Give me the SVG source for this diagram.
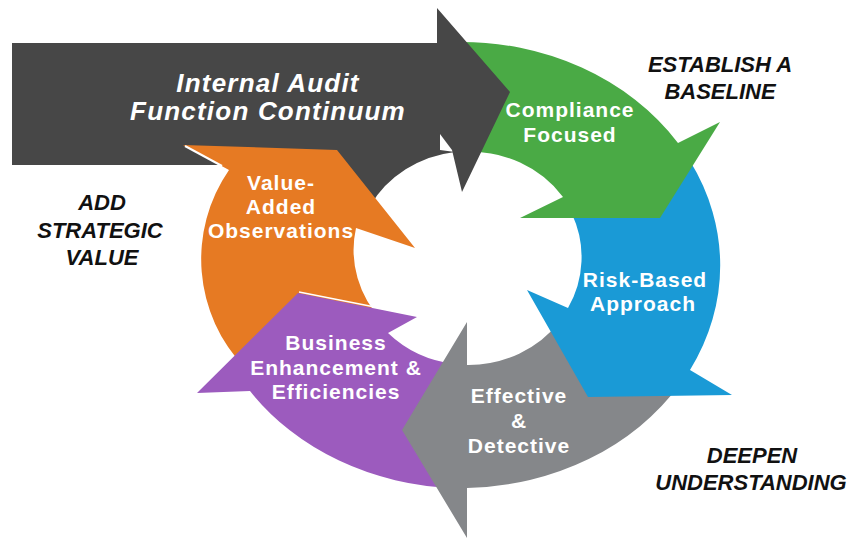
<svg xmlns="http://www.w3.org/2000/svg" width="856" height="540" viewBox="0 0 856 540">
<style>
.lbl{font-family:"Liberation Sans",Arial,sans-serif;font-weight:bold;fill:#fff;font-size:21px;letter-spacing:1px;text-anchor:middle}
.title{font-family:"Liberation Sans",Arial,sans-serif;font-weight:bold;font-style:italic;fill:#fff;font-size:26px;letter-spacing:1.2px;text-anchor:middle}
.side{font-family:"Liberation Sans",Arial,sans-serif;font-weight:bold;font-style:italic;fill:#111;font-size:22px;text-anchor:middle}
</style>
<rect width="856" height="540" fill="#fff"/>
<g id="continuum-body">
<path d="M12,43 H440 V150 L455,152 A113,107 0 0 0 370,206 L340,165 H12 Z" fill="#474747"/>
</g>
<g id="value-added">
<path d="M383,322 L245,368 A157,157 0 0 1 229,170 L183,145 L337,150 L415,248 L356,228 A113,107 0 0 0 383,322 Z" fill="#e67a23"/>
<line x1="185" y1="146" x2="222" y2="166" stroke="#fff" stroke-width="2"/>
<text class="lbl"><tspan x="281" y="190">Value-</tspan><tspan x="281" y="214">Added</tspan><tspan x="281" y="238">Observations</tspan></text>
</g>
<g id="business">
<path d="M455,364 L455,488 A259,223 0 0 1 250,391 L197,393 L298,293 L417,317 L388,333 A113,107 0 0 0 455,364 Z" fill="#9c5bbe"/>
<line x1="299" y1="292" x2="400" y2="312" stroke="#fff" stroke-width="1.5"/>
<text class="lbl"><tspan x="336" y="350">Business</tspan><tspan x="336" y="375">Enhancement &amp;</tspan><tspan x="336" y="399">Efficiencies</tspan></text>
</g>
<g id="effective">
<path d="M560,321 L680,384 A259,223 0 0 1 467,488 L467,538 L402,430 L467,322 L467,365 A113,107 0 0 0 560,321 Z" fill="#85878a"/>
<text class="lbl"><tspan x="519" y="403">Effective</tspan><tspan x="519" y="428">&amp;</tspan><tspan x="519" y="453">Detective</tspan></text>
</g>
<g id="risk-based">
<path d="M690,161 A259,223 0 0 1 690,370 L732,395 L588,397 L527,290 L568,308 A113,107 0 0 0 572,214 L600,150 Z" fill="#1a9ad6"/>
<text class="lbl"><tspan x="645" y="287">Risk-Based</tspan><tspan x="643" y="311">Approach</tspan></text>
</g>
<g id="compliance">
<path d="M455,42 A259,223 0 0 1 678,143 L720,122 L660,218 L520,218 L563,197 A113,107 0 0 0 465,152 Z" fill="#4aaa45"/>
<text class="lbl"><tspan x="570" y="117">Compliance</tspan><tspan x="570" y="142">Focused</tspan></text>
</g>
<g id="continuum-head">
<path d="M437,8 L510,92 L462,192 L452,150 L437,130 Z" fill="#474747"/>
<text class="title"><tspan x="268" y="92">Internal Audit</tspan><tspan x="268" y="120">Function Continuum</tspan></text>
</g>
<g id="side-labels">
<text class="side"><tspan x="720" y="72">ESTABLISH A</tspan><tspan x="720" y="99">BASELINE</tspan></text>
<text class="side"><tspan x="752" y="463">DEEPEN</tspan><tspan x="751" y="490">UNDERSTANDING</tspan></text>
<text class="side"><tspan x="102" y="210">ADD</tspan><tspan x="100" y="238">STRATEGIC</tspan><tspan x="102" y="265">VALUE</tspan></text>
</g>
</svg>
